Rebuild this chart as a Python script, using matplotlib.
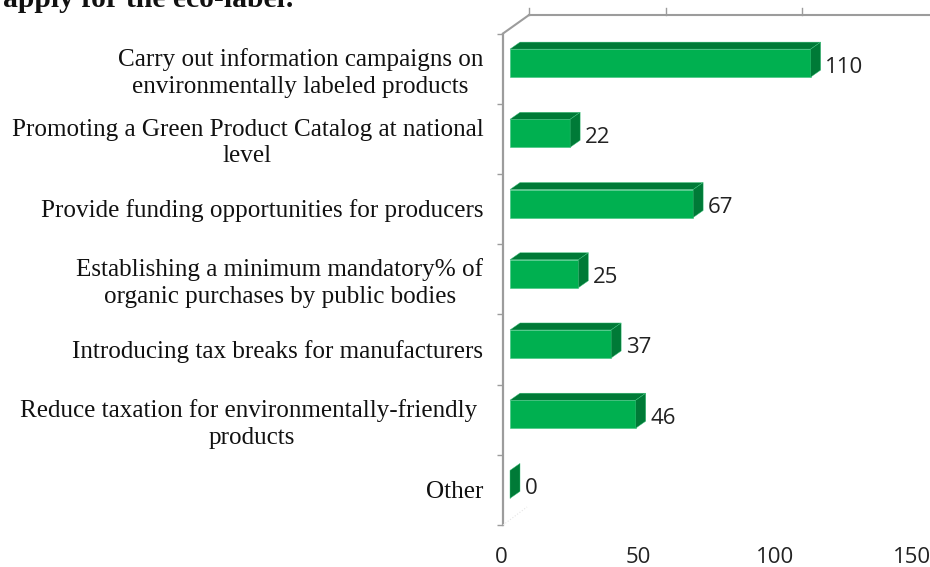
import matplotlib
matplotlib.use("Agg")
import matplotlib.pyplot as plt
from matplotlib.patches import Polygon
from matplotlib.transforms import Affine2D

categories = [
    "Carry out information campaigns on\nenvironmentally labeled products",
    "Promoting a Green Product Catalog at national\nlevel",
    "Provide funding opportunities for producers",
    "Establishing a minimum mandatory% of\norganic purchases by public bodies",
    "Introducing tax breaks for manufacturers",
    "Reduce taxation for environmentally-friendly \nproducts",
    "Other",
]
values = [110, 22, 67, 25, 37, 46, 0]
x_ticks = [0, 50, 100, 150]
title = "apply for the eco-label:"

W, H = 930, 567
GREEN, DARK, GRAY = "#00B050", "#007A37", "#9C9C9C"
SERIF = "Liberation Serif"
SANS = "Open Sans"

fig = plt.figure(figsize=(W / 100, H / 100), dpi=100)
L, R, T, B = 503, 913, 33.5, 525
ax = fig.add_axes([L / W, 1 - B / H, (R - L) / W, (B - T) / H])
ax.set_xlim(0, 150)
n = len(categories)
ax.set_ylim(n - 0.5, -0.5)
for s in ("top", "right", "bottom"):
    ax.spines[s].set_visible(False)
ax.spines["left"].set_color(GRAY)
ax.spines["left"].set_linewidth(1.6)
ax.patch.set_alpha(0)

# category labels and boundary ticks
ypos = list(range(n))
ax.set_yticks(ypos)
ax.set_yticklabels(categories, fontfamily=SERIF, fontsize=18.1, color="#111111",
                   multialignment="center", linespacing=1.29)
ax.tick_params(axis="y", which="major", length=0, pad=14.5)
for lab in ax.get_yticklabels():
    lab.set_transform(lab.get_transform() + Affine2D().translate(0.5, 0.8))
ax.set_yticks([i - 0.5 for i in range(n + 1)], minor=True)
ax.tick_params(axis="y", which="minor", length=4.5, width=1, color=GRAY)
ax.set_xticks(x_ticks)
ax.set_xticklabels([str(t) for t in x_ticks], fontfamily=SANS, fontsize=16, color="#222222")
ax.tick_params(axis="x", length=0, pad=16)
for lab in ax.get_xticklabels():
    lab.set_transform(lab.get_transform() + Affine2D().translate(-1.5, 0))


def off(dx, dy):
    return ax.transData + Affine2D().translate(dx, dy)


# 3D-style back wall
wall = off(26, 18.5)
ax.plot([0, 160], [-0.5, -0.5], color=GRAY, lw=1.5, transform=wall, clip_on=False)
for t in x_ticks:
    ax.plot([t, t], [-0.5, -0.6], color=GRAY, lw=1, transform=wall, clip_on=False)
top_a = ax.transData.transform((0, -0.5))
bot_a = ax.transData.transform((0, n - 0.5))
fig.add_artist(plt.Line2D([top_a[0], top_a[0] + 26], [top_a[1], top_a[1] + 18.5], color=GRAY,
                          lw=1.5, transform=None))
fig.add_artist(plt.Line2D([bot_a[0], bot_a[0] + 24], [bot_a[1], bot_a[1] + 18], color="#E4E4E4",
                          lw=0.8, ls=":", transform=None))

# bars
BAR_H = 28 / ((B - T) / n)
DX, DY = 7, 5.5     # bar front offset in pixels
SX, SY = 10, 7      # bar depth in pixels
front = off(DX, DY)
ax.barh(ypos, values, height=BAR_H, color=GREEN, edgecolor="#3CC47C", linewidth=0.4,
        transform=front, clip_on=False, zorder=3)
depth = off(DX + SX, DY + SY)
for y, v in zip(ypos, values):
    y0, y1 = y - BAR_H / 2, y + BAR_H / 2
    if v > 0:
        # top face: front edge through the front transform, back edge through depth
        pts = [front.transform((0, y0)), front.transform((v, y0)),
               depth.transform((v, y0)), depth.transform((0, y0))]
        ax.add_patch(Polygon(pts, closed=True, transform=None, facecolor=DARK,
                             edgecolor="#3CC47C", linewidth=0.3, zorder=3, clip_on=False))
    pts = [front.transform((v, y0)), front.transform((v, y1)),
           depth.transform((v, y1)), depth.transform((v, y0))]
    ax.add_patch(Polygon(pts, closed=True, transform=None, facecolor=DARK,
                         edgecolor="#3CC47C", linewidth=0.3, zorder=3, clip_on=False))
    ax.text(v, y, str(v), transform=off(DX + SX + 4.5, DY - 4), fontfamily=SANS, fontsize=16,
            color="#222222", ha="left", va="center", clip_on=False, zorder=4)

fig.text(3 / W, 1 - 7 / H, title, fontfamily=SERIF, fontweight="bold", fontsize=21.3,
         color="#111111", ha="left", va="baseline")

fig.savefig("out.png", dpi=100, facecolor="white")
